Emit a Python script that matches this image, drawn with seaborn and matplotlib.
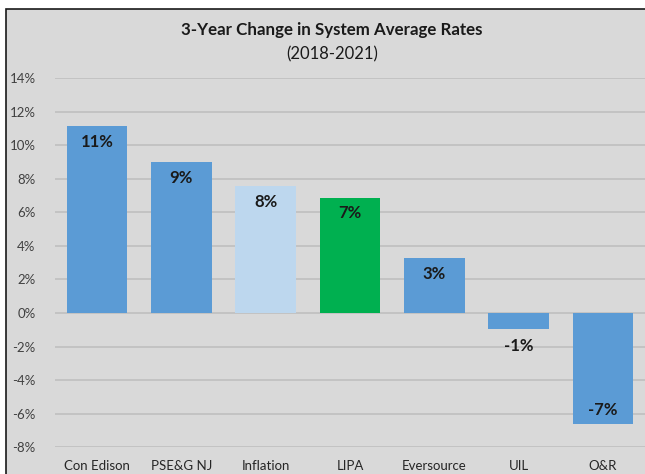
import matplotlib
matplotlib.use("Agg")
import matplotlib.pyplot as plt
from matplotlib.patches import Rectangle
from matplotlib.ticker import FuncFormatter
import seaborn as sns
import pandas as pd

categories = ["Con Edison", "PSE&G NJ", "Inflation", "LIPA", "Eversource", "UIL", "O&R"]
values = [11.15, 9.0, 7.55, 6.88, 3.3, -0.95, -6.62]
labels = ["11%", "9%", "8%", "7%", "3%", "-1%", "-7%"]
colors = ["#5b9bd5", "#5b9bd5", "#bdd7ee", "#00b050", "#5b9bd5", "#5b9bd5", "#5b9bd5"]
yticks = [-8, -6, -4, -2, 0, 2, 4, 6, 8, 10, 12, 14]

sns.set_theme(style="white")
plt.rcParams["font.family"] = ["Lato", "DejaVu Sans"]

df = pd.DataFrame({"cat": categories, "val": values})

fig = plt.figure(figsize=(6.45, 4.74), dpi=100)
fig.patch.set_facecolor("white")
bg = Rectangle((6 / 645, -0.2), 1.2, 0.2 + 1 - 9 / 474, transform=fig.transFigure,
               facecolor="#d9d9d9", edgecolor="#1a1a1a", linewidth=1.2, zorder=-5)
fig.patches.append(bg)

ax = fig.add_axes([55 / 645, 1 - 447.3 / 474, 1 - 55 / 645, (447.3 - 78) / 474])
ax.set_facecolor("#d9d9d9")

sns.barplot(data=df, x="cat", y="val", hue="cat", palette=colors, legend=False,
            width=0.72, ax=ax, zorder=3, saturation=1, linewidth=0)

ax.set_ylim(-8, 14)
ax.set_yticks(yticks)
ax.yaxis.set_major_formatter(FuncFormatter(lambda v, p: f"{int(round(v))}%"))
ax.grid(axis="y", color="#bdbdbd", linewidth=1.1, zorder=0)
ax.grid(axis="x", visible=False)
ax.set_axisbelow(True)
for s in ax.spines.values():
    s.set_visible(False)
ax.tick_params(axis="y", length=0, pad=14, labelsize=9.5, labelcolor="#404040")
ax.tick_params(axis="x", length=0, pad=9, labelsize=9.5, labelcolor="#262626")
ax.set_xlabel("")
ax.set_ylabel("")

for i, (v, lab) in enumerate(zip(values, labels)):
    if v >= 0:
        off = -11.5
    elif v > -2:
        off = -12.5
    else:
        off = 10
    ax.annotate(lab, (i, v), xytext=(0, off), textcoords="offset points",
                ha="center", va="center", fontsize=12, fontweight="bold",
                color="#1a1a1a", zorder=5)

fig.text(332 / 645, 1 - 30 / 474, "3-Year Change in System Average Rates",
         ha="center", va="center", fontsize=12.2, fontweight="bold", color="#1a1a1a")
fig.text(332 / 645, 1 - 54 / 474, "(2018-2021)",
         ha="center", va="center", fontsize=12, color="#1a1a1a")

fig.savefig("out.png", dpi=100, facecolor="white")
